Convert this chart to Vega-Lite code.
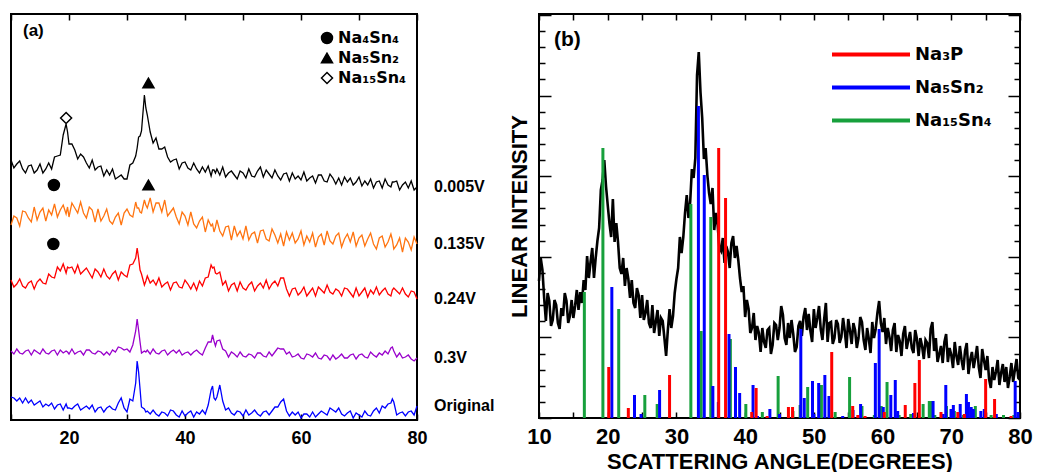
{
"$schema": "https://vega.github.io/schema/vega-lite/v6.json",
"padding": {"left": 7, "top": 12, "right": 0, "bottom": 0},
"autosize": {"type": "pad"},
"background": "white",
"bounds": "flush",
"spacing": 122,
"resolve": {"scale": {"color": "independent", "fill": "independent", "shape": "independent", "stroke": "independent"}, "legend": {"color": "independent", "fill": "independent", "shape": "independent", "stroke": "independent"}},
"config": {
  "view": {"stroke": "black", "strokeWidth": 2},
  "font": "Liberation Sans",
  "axis": {"domain": false, "grid": false, "tickColor": "black", "tickWidth": 1.5, "labelColor": "black", "titleColor": "black", "labelFont": "Liberation Sans", "titleFont": "Liberation Sans", "labelFontWeight": "bold", "titleFontWeight": "bold", "labelFlush": false},
  "legend": {"labelFont": "DejaVu Sans", "labelFontWeight": "bold", "labelColor": "black"}
},
"datasets": {
  "curves": [
    {"x":10,"k":260,"o":195,"r":140,"p":69,"b":23},
    {"x":10.5,"k":252,"o":204,"r":133,"p":66,"b":22},
    {"x":11,"k":256,"o":202,"r":136,"p":71,"b":19},
    {"x":11.5,"k":259,"o":194,"r":141,"p":67,"b":22},
    {"x":12,"k":251,"o":209,"r":134,"p":66,"b":17},
    {"x":12.5,"k":247,"o":208,"r":132,"p":69,"b":22},
    {"x":13,"k":254,"o":202,"r":137,"p":70,"b":17},
    {"x":13.5,"k":255,"o":198,"r":139,"p":65,"b":20},
    {"x":14,"k":247,"o":213,"r":131,"p":70,"b":15},
    {"x":14.5,"k":250,"o":200,"r":138,"p":68,"b":17},
    {"x":15,"k":256,"o":208,"r":141,"p":66,"b":19},
    {"x":15.5,"k":247,"o":212,"r":137,"p":71,"b":13},
    {"x":16,"k":251,"o":199,"r":136,"p":67,"b":16},
    {"x":16.5,"k":257,"o":210,"r":146,"p":66,"b":14},
    {"x":17,"k":251,"o":205,"r":143,"p":69,"b":17},
    {"x":17.5,"k":263,"o":216,"r":142,"p":70,"b":11},
    {"x":18,"k":264,"o":203,"r":153,"p":65,"b":15},
    {"x":18.5,"k":265,"o":210,"r":149,"p":70,"b":16},
    {"x":19,"k":285,"o":215,"r":156,"p":67,"b":10},
    {"x":19.5,"k":296,"o":206,"r":147,"p":69,"b":16},
    {"x":19.75,"k":288,"o":213,"r":153,"p":68,"b":12},
    {"x":20,"k":276,"o":203,"r":152,"p":66,"b":12},
    {"x":20.5,"k":276,"o":217,"r":153,"p":71,"b":11},
    {"x":21,"k":270,"o":212,"r":147,"p":66,"b":14},
    {"x":21.5,"k":261,"o":207,"r":155,"p":68,"b":16},
    {"x":22,"k":266,"o":218,"r":146,"p":69,"b":10},
    {"x":22.5,"k":263,"o":207,"r":149,"p":65,"b":12},
    {"x":23,"k":257,"o":202,"r":152,"p":70,"b":14},
    {"x":23.5,"k":252,"o":213,"r":147,"p":70,"b":11},
    {"x":24,"k":260,"o":210,"r":142,"p":67,"b":15},
    {"x":24.5,"k":250,"o":198,"r":151,"p":66,"b":8},
    {"x":25,"k":253,"o":211,"r":148,"p":69,"b":12},
    {"x":25.5,"k":254,"o":199,"r":143,"p":68,"b":13},
    {"x":26,"k":244,"o":204,"r":151,"p":65,"b":8},
    {"x":26.5,"k":250,"o":211,"r":144,"p":68,"b":12},
    {"x":27,"k":245,"o":199,"r":141,"p":65,"b":14},
    {"x":27.5,"k":251,"o":196,"r":146,"p":70,"b":11},
    {"x":28,"k":241,"o":203,"r":149,"p":68,"b":10},
    {"x":28.5,"k":243,"o":207,"r":140,"p":73,"b":17},
    {"x":29,"k":245,"o":195,"r":148,"p":72,"b":22},
    {"x":29.5,"k":241,"o":207,"r":145,"p":70,"b":12},
    {"x":30,"k":241,"o":211,"r":143,"p":71,"b":8},
    {"x":30.5,"k":255,"o":205,"r":155,"p":68,"b":21},
    {"x":31,"k":257,"o":203,"r":156,"p":75,"b":19},
    {"x":31.5,"k":264,"o":218,"r":162,"p":89,"b":37},
    {"x":31.75,"k":272,"o":212,"r":172,"p":101,"b":59},
    {"x":32,"k":283,"o":212,"r":162,"p":90,"b":48},
    {"x":32.25,"k":284,"o":208,"r":150,"p":78,"b":31},
    {"x":32.5,"k":289,"o":207,"r":146,"p":67,"b":13},
    {"x":33,"k":325,"o":220,"r":135,"p":69,"b":11},
    {"x":33.25,"k":312,"o":215,"r":139,"p":68,"b":8},
    {"x":33.5,"k":305,"o":212,"r":144,"p":70,"b":9},
    {"x":34,"k":288,"o":222,"r":137,"p":66,"b":6},
    {"x":34.5,"k":277,"o":208,"r":140,"p":71,"b":10},
    {"x":35,"k":282,"o":217,"r":135,"p":67,"b":6},
    {"x":35.5,"k":271,"o":217,"r":142,"p":66,"b":4},
    {"x":36,"k":271,"o":208,"r":133,"p":69,"b":8},
    {"x":36.5,"k":273,"o":220,"r":136,"p":70,"b":7},
    {"x":37,"k":263,"o":204,"r":138,"p":65,"b":4},
    {"x":37.5,"k":258,"o":208,"r":130,"p":68,"b":10},
    {"x":38,"k":260,"o":212,"r":137,"p":70,"b":9},
    {"x":38.5,"k":261,"o":203,"r":138,"p":67,"b":5},
    {"x":39,"k":251,"o":196,"r":133,"p":70,"b":3},
    {"x":39.5,"k":257,"o":208,"r":132,"p":65,"b":9},
    {"x":40,"k":258,"o":204,"r":140,"p":67,"b":4},
    {"x":40.5,"k":252,"o":195,"r":136,"p":68,"b":7},
    {"x":41,"k":250,"o":208,"r":131,"p":65,"b":9},
    {"x":41.5,"k":257,"o":196,"r":137,"p":68,"b":3},
    {"x":42,"k":251,"o":192,"r":130,"p":70,"b":8},
    {"x":42.5,"k":247,"o":199,"r":139,"p":67,"b":6},
    {"x":43,"k":253,"o":203,"r":134,"p":65,"b":10},
    {"x":43.5,"k":248,"o":188,"r":142,"p":72,"b":6},
    {"x":44,"k":254,"o":200,"r":143,"p":78,"b":15},
    {"x":44.5,"k":244,"o":194,"r":155,"p":78,"b":30},
    {"x":44.75,"k":250,"o":196,"r":152,"p":85,"b":34},
    {"x":45,"k":250,"o":188,"r":153,"p":79,"b":22},
    {"x":45.25,"k":247,"o":193,"r":147,"p":74,"b":20},
    {"x":45.5,"k":251,"o":200,"r":146,"p":79,"b":23},
    {"x":46,"k":245,"o":189,"r":148,"p":80,"b":35},
    {"x":46.5,"k":253,"o":184,"r":135,"p":71,"b":19},
    {"x":47,"k":243,"o":193,"r":139,"p":69,"b":10},
    {"x":47.5,"k":247,"o":194,"r":129,"p":63,"b":12},
    {"x":48,"k":249,"o":180,"r":135,"p":68,"b":7},
    {"x":48.5,"k":245,"o":194,"r":137,"p":66,"b":5},
    {"x":49,"k":241,"o":184,"r":129,"p":63,"b":9},
    {"x":49.5,"k":249,"o":189,"r":138,"p":68,"b":8},
    {"x":50,"k":247,"o":181,"r":132,"p":64,"b":4},
    {"x":50.5,"k":242,"o":194,"r":130,"p":63,"b":10},
    {"x":51,"k":251,"o":180,"r":135,"p":66,"b":5},
    {"x":51.5,"k":244,"o":186,"r":138,"p":65,"b":7},
    {"x":52,"k":243,"o":188,"r":129,"p":62,"b":10},
    {"x":52.5,"k":249,"o":177,"r":134,"p":67,"b":6},
    {"x":53,"k":253,"o":189,"r":137,"p":67,"b":4},
    {"x":53.5,"k":243,"o":190,"r":132,"p":64,"b":8},
    {"x":54,"k":250,"o":181,"r":140,"p":63,"b":9},
    {"x":54.5,"k":246,"o":179,"r":131,"p":68,"b":5},
    {"x":55,"k":242,"o":191,"r":136,"p":64,"b":9},
    {"x":55.5,"k":250,"o":185,"r":139,"p":68,"b":13},
    {"x":56,"k":244,"o":177,"r":134,"p":72,"b":13},
    {"x":56.5,"k":240,"o":186,"r":142,"p":71,"b":18},
    {"x":57,"k":246,"o":174,"r":142,"p":71,"b":21},
    {"x":57.5,"k":247,"o":188,"r":131,"p":66,"b":9},
    {"x":58,"k":239,"o":180,"r":124,"p":68,"b":4},
    {"x":58.5,"k":247,"o":187,"r":131,"p":63,"b":8},
    {"x":59,"k":241,"o":177,"r":132,"p":64,"b":5},
    {"x":59.5,"k":244,"o":181,"r":125,"p":66,"b":8},
    {"x":60,"k":240,"o":189,"r":128,"p":62,"b":2},
    {"x":60.5,"k":248,"o":175,"r":133,"p":61,"b":6},
    {"x":61,"k":239,"o":184,"r":124,"p":66,"b":6},
    {"x":61.5,"k":242,"o":178,"r":128,"p":65,"b":3},
    {"x":62,"k":244,"o":187,"r":132,"p":63,"b":8},
    {"x":62.5,"k":237,"o":173,"r":124,"p":67,"b":3},
    {"x":63,"k":245,"o":183,"r":133,"p":62,"b":6},
    {"x":63.5,"k":245,"o":186,"r":130,"p":61,"b":9},
    {"x":64,"k":239,"o":175,"r":127,"p":65,"b":7},
    {"x":64.5,"k":238,"o":189,"r":135,"p":64,"b":5},
    {"x":65,"k":246,"o":179,"r":128,"p":60,"b":12},
    {"x":65.5,"k":242,"o":176,"r":126,"p":65,"b":10},
    {"x":66,"k":236,"o":184,"r":131,"p":61,"b":8},
    {"x":66.5,"k":242,"o":187,"r":129,"p":63,"b":12},
    {"x":67,"k":235,"o":173,"r":124,"p":66,"b":6},
    {"x":67.5,"k":243,"o":181,"r":132,"p":62,"b":4},
    {"x":68,"k":238,"o":186,"r":131,"p":62,"b":7},
    {"x":68.5,"k":242,"o":178,"r":127,"p":65,"b":9},
    {"x":69,"k":235,"o":188,"r":123,"p":66,"b":2},
    {"x":69.5,"k":238,"o":174,"r":132,"p":61,"b":7},
    {"x":70,"k":243,"o":182,"r":124,"p":65,"b":5},
    {"x":70.5,"k":234,"o":185,"r":128,"p":66,"b":3},
    {"x":71,"k":239,"o":174,"r":132,"p":63,"b":9},
    {"x":71.5,"k":235,"o":181,"r":123,"p":62,"b":5},
    {"x":72,"k":241,"o":187,"r":130,"p":68,"b":4},
    {"x":72.5,"k":232,"o":176,"r":126,"p":65,"b":9},
    {"x":73,"k":238,"o":171,"r":133,"p":63,"b":12},
    {"x":73.5,"k":239,"o":182,"r":125,"p":67,"b":7},
    {"x":74,"k":232,"o":184,"r":129,"p":65,"b":14},
    {"x":74.5,"k":241,"o":173,"r":132,"p":69,"b":12},
    {"x":75,"k":235,"o":178,"r":126,"p":66,"b":16},
    {"x":75.5,"k":233,"o":186,"r":124,"p":72,"b":17},
    {"x":75.75,"k":238,"o":180,"r":130,"p":73,"b":21},
    {"x":76,"k":238,"o":171,"r":132,"p":69,"b":18},
    {"x":76.5,"k":239,"o":175,"r":129,"p":63,"b":5},
    {"x":77,"k":230,"o":182,"r":126,"p":67,"b":7},
    {"x":77.5,"k":235,"o":168,"r":132,"p":62,"b":8},
    {"x":78,"k":238,"o":182,"r":126,"p":63,"b":4},
    {"x":78.5,"k":232,"o":178,"r":123,"p":65,"b":8},
    {"x":79,"k":239,"o":170,"r":129,"p":61,"b":9},
    {"x":79.5,"k":230,"o":183,"r":128,"p":59,"b":5},
    {"x":80,"k":233,"o":176,"r":121,"p":62,"b":14}
  ],
  "markers": [
    {"phase":"Na₁₅Sn₄","x":19.5,"y":302},
    {"phase":"Na₅Sn₂","x":33.7,"y":337},
    {"phase":"Na₄Sn₄","x":17.4,"y":235},
    {"phase":"Na₅Sn₂","x":33.7,"y":235},
    {"phase":"Na₄Sn₄","x":17.3,"y":176}
  ],
  "xrd": [
    {"x":10,"y":137},{"x":10.25,"y":160},{"x":10.5,"y":148},{"x":10.75,"y":120},{"x":11,"y":97},{"x":11.25,"y":125},{"x":11.5,"y":117},{"x":11.75,"y":92},{"x":12,"y":98},{"x":12.25,"y":118},
    {"x":12.5,"y":113},{"x":12.75,"y":95},{"x":13,"y":89},{"x":13.25,"y":110},{"x":13.5,"y":102},{"x":13.75,"y":125},{"x":14,"y":117},{"x":14.25,"y":95},{"x":14.5,"y":102},{"x":14.75,"y":118},
    {"x":15,"y":100},{"x":15.25,"y":112},{"x":15.5,"y":128},{"x":15.75,"y":108},{"x":16,"y":126},{"x":16.25,"y":115},{"x":16.5,"y":138},{"x":16.75,"y":128},{"x":17,"y":162},{"x":17.25,"y":140},
    {"x":17.5,"y":156},{"x":17.75,"y":170},{"x":18,"y":140},{"x":18.25,"y":160},{"x":18.5,"y":177},{"x":18.75,"y":190},{"x":19,"y":228},{"x":19.25,"y":238},{"x":19.5,"y":258},{"x":19.75,"y":232},
    {"x":20,"y":213},{"x":20.25,"y":195},{"x":20.5,"y":181},{"x":20.75,"y":219},{"x":21,"y":176},{"x":21.25,"y":195},{"x":21.5,"y":176},{"x":21.75,"y":150},{"x":22,"y":144},{"x":22.25,"y":160},
    {"x":22.5,"y":132},{"x":22.75,"y":150},{"x":23,"y":139},{"x":23.25,"y":120},{"x":23.5,"y":138},{"x":23.75,"y":115},{"x":24,"y":110},{"x":24.25,"y":130},{"x":24.5,"y":123},{"x":24.75,"y":100},
    {"x":25,"y":123},{"x":25.25,"y":98},{"x":25.5,"y":105},{"x":25.75,"y":118},{"x":26,"y":95},{"x":26.25,"y":90},{"x":26.5,"y":113},{"x":26.75,"y":85},{"x":27,"y":96},{"x":27.25,"y":108},
    {"x":27.5,"y":82},{"x":27.75,"y":100},{"x":28,"y":97},{"x":28.25,"y":80},{"x":28.5,"y":62},{"x":28.75,"y":88},{"x":29,"y":109},{"x":29.25,"y":90},{"x":29.5,"y":102},{"x":29.75,"y":125},
    {"x":30,"y":139},{"x":30.25,"y":150},{"x":30.5,"y":181},{"x":30.75,"y":165},{"x":31,"y":181},{"x":31.25,"y":205},{"x":31.5,"y":223},{"x":31.75,"y":200},{"x":32,"y":216},{"x":32.25,"y":249},
    {"x":32.5,"y":240},{"x":32.75,"y":260},{"x":33,"y":343},{"x":33.25,"y":366},{"x":33.5,"y":326},{"x":33.75,"y":300},{"x":34,"y":259},{"x":34.25,"y":270},{"x":34.5,"y":243},{"x":34.75,"y":225},
    {"x":35,"y":214},{"x":35.25,"y":230},{"x":35.5,"y":188},{"x":35.75,"y":205},{"x":36,"y":193},{"x":36.25,"y":170},{"x":36.5,"y":167},{"x":36.75,"y":180},{"x":37,"y":155},{"x":37.25,"y":172},
    {"x":37.5,"y":166},{"x":37.75,"y":150},{"x":38,"y":175},{"x":38.25,"y":182},{"x":38.5,"y":160},{"x":38.75,"y":172},{"x":39,"y":158},{"x":39.25,"y":140},{"x":39.5,"y":126},{"x":39.75,"y":132},
    {"x":40,"y":101},{"x":40.25,"y":118},{"x":40.5,"y":109},{"x":40.75,"y":85},{"x":41,"y":90},{"x":41.25,"y":105},{"x":41.5,"y":78},{"x":41.75,"y":92},{"x":42,"y":85},{"x":42.25,"y":66},
    {"x":42.5,"y":90},{"x":42.75,"y":76},{"x":43,"y":70},{"x":43.25,"y":88},{"x":43.5,"y":90},{"x":43.75,"y":64},{"x":44,"y":73},{"x":44.25,"y":95},{"x":44.5,"y":93},{"x":44.75,"y":78},
    {"x":45,"y":90},{"x":45.25,"y":112},{"x":45.5,"y":103},{"x":45.75,"y":80},{"x":46,"y":73},{"x":46.25,"y":95},{"x":46.5,"y":80},{"x":46.75,"y":98},{"x":47,"y":84},{"x":47.25,"y":66},
    {"x":47.5,"y":71},{"x":47.75,"y":92},{"x":48,"y":97},{"x":48.25,"y":82},{"x":48.5,"y":101},{"x":48.75,"y":110},{"x":49,"y":88},{"x":49.25,"y":104},{"x":49.5,"y":87},{"x":49.75,"y":76},
    {"x":50,"y":109},{"x":50.25,"y":90},{"x":50.5,"y":100},{"x":50.75,"y":112},{"x":51,"y":89},{"x":51.25,"y":78},{"x":51.5,"y":99},{"x":51.75,"y":115},{"x":52,"y":76},{"x":52.25,"y":95},
    {"x":52.5,"y":96},{"x":52.75,"y":74},{"x":53,"y":80},{"x":53.25,"y":98},{"x":53.5,"y":94},{"x":53.75,"y":75},{"x":54,"y":81},{"x":54.25,"y":100},{"x":54.5,"y":87},{"x":54.75,"y":70},
    {"x":55,"y":99},{"x":55.25,"y":88},{"x":55.5,"y":74},{"x":55.75,"y":95},{"x":56,"y":88},{"x":56.25,"y":70},{"x":56.5,"y":80},{"x":56.75,"y":101},{"x":57,"y":96},{"x":57.25,"y":78},
    {"x":57.5,"y":68},{"x":57.75,"y":90},{"x":58,"y":79},{"x":58.25,"y":65},{"x":58.5,"y":96},{"x":58.75,"y":80},{"x":59,"y":89},{"x":59.25,"y":105},{"x":59.5,"y":117},{"x":59.75,"y":95},
    {"x":60,"y":86},{"x":60.25,"y":100},{"x":60.5,"y":74},{"x":60.75,"y":90},{"x":61,"y":81},{"x":61.25,"y":67},{"x":61.5,"y":88},{"x":61.75,"y":95},{"x":62,"y":66},{"x":62.25,"y":83},
    {"x":62.5,"y":77},{"x":62.75,"y":62},{"x":63,"y":84},{"x":63.25,"y":92},{"x":63.5,"y":69},{"x":63.75,"y":78},{"x":64,"y":86},{"x":64.25,"y":70},{"x":64.5,"y":65},{"x":64.75,"y":88},
    {"x":65,"y":79},{"x":65.25,"y":62},{"x":65.5,"y":80},{"x":65.75,"y":72},{"x":66,"y":59},{"x":66.25,"y":78},{"x":66.5,"y":75},{"x":66.75,"y":60},{"x":67,"y":89},{"x":67.25,"y":96},
    {"x":67.5,"y":67},{"x":67.75,"y":80},{"x":68,"y":56},{"x":68.25,"y":64},{"x":68.5,"y":72},{"x":68.75,"y":55},{"x":69,"y":76},{"x":69.25,"y":84},{"x":69.5,"y":56},{"x":69.75,"y":70},
    {"x":70,"y":63},{"x":70.25,"y":50},{"x":70.5,"y":76},{"x":70.75,"y":62},{"x":71,"y":53},{"x":71.25,"y":72},{"x":71.5,"y":58},{"x":71.75,"y":48},{"x":72,"y":67},{"x":72.25,"y":75},
    {"x":72.5,"y":44},{"x":72.75,"y":58},{"x":73,"y":66},{"x":73.25,"y":50},{"x":73.5,"y":60},{"x":73.75,"y":72},{"x":74,"y":51},{"x":74.25,"y":40},{"x":74.5,"y":69},{"x":74.75,"y":58},
    {"x":75,"y":48},{"x":75.25,"y":62},{"x":75.5,"y":39},{"x":75.75,"y":30},{"x":76,"y":51},{"x":76.25,"y":38},{"x":76.5,"y":46},{"x":76.75,"y":58},{"x":77,"y":33},{"x":77.25,"y":45},
    {"x":77.5,"y":54},{"x":77.75,"y":36},{"x":78,"y":51},{"x":78.25,"y":30},{"x":78.5,"y":41},{"x":78.75,"y":55},{"x":79,"y":36},{"x":79.25,"y":48},{"x":79.5,"y":59},{"x":79.75,"y":40},
    {"x":80,"y":38}
  ],
  "sticks": [
    {"phase":"Na₁₅Sn₄","x":16.6,"h":126},{"phase":"Na₁₅Sn₄","x":19.3,"h":270},{"phase":"Na₁₅Sn₄","x":21.6,"h":109},{"phase":"Na₁₅Sn₄","x":25.4,"h":23},{"phase":"Na₁₅Sn₄","x":27.2,"h":14},
    {"phase":"Na₁₅Sn₄","x":32.1,"h":214},{"phase":"Na₁₅Sn₄","x":33.6,"h":87},{"phase":"Na₁₅Sn₄","x":35.0,"h":201},{"phase":"Na₁₅Sn₄","x":37.85,"h":79},{"phase":"Na₁₅Sn₄","x":40.1,"h":14},
    {"phase":"Na₁₅Sn₄","x":42.5,"h":6},{"phase":"Na₁₅Sn₄","x":44.8,"h":42},{"phase":"Na₁₅Sn₄","x":46.95,"h":7},{"phase":"Na₁₅Sn₄","x":48.0,"h":13},{"phase":"Na₁₅Sn₄","x":49.1,"h":31},
    {"phase":"Na₁₅Sn₄","x":51.1,"h":33},{"phase":"Na₁₅Sn₄","x":53.1,"h":6},{"phase":"Na₁₅Sn₄","x":55.2,"h":41},{"phase":"Na₁₅Sn₄","x":57.0,"h":12},{"phase":"Na₁₅Sn₄","x":58.8,"h":3},
    {"phase":"Na₁₅Sn₄","x":59.8,"h":12},{"phase":"Na₁₅Sn₄","x":60.65,"h":36},{"phase":"Na₁₅Sn₄","x":62.4,"h":3},{"phase":"Na₁₅Sn₄","x":64.1,"h":4},{"phase":"Na₁₅Sn₄","x":65.9,"h":14},
    {"phase":"Na₁₅Sn₄","x":66.8,"h":17},{"phase":"Na₁₅Sn₄","x":67.05,"h":17},{"phase":"Na₁₅Sn₄","x":67.6,"h":3},{"phase":"Na₁₅Sn₄","x":69.3,"h":12},{"phase":"Na₁₅Sn₄","x":70.45,"h":7},
    {"phase":"Na₁₅Sn₄","x":71.75,"h":3},{"phase":"Na₁₅Sn₄","x":73.5,"h":12},{"phase":"Na₁₅Sn₄","x":75.8,"h":3},{"phase":"Na₁₅Sn₄","x":77.6,"h":3},{"phase":"Na₁₅Sn₄","x":79.1,"h":3},
    {"phase":"Na₅Sn₂","x":20.6,"h":131},{"phase":"Na₅Sn₂","x":23.9,"h":23},{"phase":"Na₅Sn₂","x":24.85,"h":4},{"phase":"Na₅Sn₂","x":27.55,"h":28},{"phase":"Na₅Sn₂","x":33.2,"h":312},
    {"phase":"Na₅Sn₂","x":34.05,"h":243},{"phase":"Na₅Sn₂","x":35.3,"h":32},{"phase":"Na₅Sn₂","x":36.1,"h":16},{"phase":"Na₅Sn₂","x":37.65,"h":84},{"phase":"Na₅Sn₂","x":38.6,"h":51},
    {"phase":"Na₅Sn₂","x":39.2,"h":25},{"phase":"Na₅Sn₂","x":41.15,"h":33},{"phase":"Na₅Sn₂","x":41.8,"h":2},{"phase":"Na₅Sn₂","x":43.6,"h":9},{"phase":"Na₅Sn₂","x":45.0,"h":4},
    {"phase":"Na₅Sn₂","x":48.1,"h":89},{"phase":"Na₅Sn₂","x":48.6,"h":20},{"phase":"Na₅Sn₂","x":49.8,"h":37},{"phase":"Na₅Sn₂","x":50.0,"h":4},{"phase":"Na₅Sn₂","x":50.7,"h":35},
    {"phase":"Na₅Sn₂","x":51.6,"h":43},{"phase":"Na₅Sn₂","x":52.2,"h":22},{"phase":"Na₅Sn₂","x":54.2,"h":2},{"phase":"Na₅Sn₂","x":55.7,"h":8},{"phase":"Na₅Sn₂","x":56.8,"h":14},
    {"phase":"Na₅Sn₂","x":58.95,"h":55},{"phase":"Na₅Sn₂","x":59.5,"h":89},{"phase":"Na₅Sn₂","x":60.1,"h":11},{"phase":"Na₅Sn₂","x":61.2,"h":23},{"phase":"Na₅Sn₂","x":61.85,"h":38},
    {"phase":"Na₅Sn₂","x":62.2,"h":7},{"phase":"Na₅Sn₂","x":64.5,"h":5},{"phase":"Na₅Sn₂","x":67.35,"h":17},{"phase":"Na₅Sn₂","x":68.8,"h":4},{"phase":"Na₅Sn₂","x":69.2,"h":33},
    {"phase":"Na₅Sn₂","x":69.96,"h":9},{"phase":"Na₅Sn₂","x":70.3,"h":13},{"phase":"Na₅Sn₂","x":71.3,"h":14},{"phase":"Na₅Sn₂","x":72.2,"h":24},{"phase":"Na₅Sn₂","x":72.5,"h":16},
    {"phase":"Na₅Sn₂","x":72.9,"h":11},{"phase":"Na₅Sn₂","x":73.2,"h":9},{"phase":"Na₅Sn₂","x":74.3,"h":7},{"phase":"Na₅Sn₂","x":74.8,"h":9},{"phase":"Na₅Sn₂","x":76.55,"h":4},
    {"phase":"Na₅Sn₂","x":79.3,"h":37},{"phase":"Na₅Sn₂","x":79.7,"h":6},
    {"phase":"Na₃P","x":20.15,"h":51},{"phase":"Na₃P","x":23.0,"h":10},{"phase":"Na₃P","x":29.0,"h":43},{"phase":"Na₃P","x":36.15,"h":270},{"phase":"Na₃P","x":37.15,"h":220},
    {"phase":"Na₃P","x":40.96,"h":6},{"phase":"Na₃P","x":41.6,"h":30},{"phase":"Na₃P","x":43.2,"h":2},{"phase":"Na₃P","x":46.3,"h":11},{"phase":"Na₃P","x":46.9,"h":11},
    {"phase":"Na₃P","x":52.6,"h":66},{"phase":"Na₃P","x":55.65,"h":12},{"phase":"Na₃P","x":56.4,"h":3},{"phase":"Na₃P","x":57.45,"h":2},{"phase":"Na₃P","x":60.25,"h":6},
    {"phase":"Na₃P","x":63.3,"h":13},{"phase":"Na₃P","x":64.7,"h":35},{"phase":"Na₃P","x":65.35,"h":58},{"phase":"Na₃P","x":68.5,"h":6},{"phase":"Na₃P","x":70.95,"h":6},
    {"phase":"Na₃P","x":71.9,"h":4},{"phase":"Na₃P","x":75.0,"h":39},{"phase":"Na₃P","x":76.3,"h":19},{"phase":"Na₃P","x":78.7,"h":2}
  ]
},
"hconcat": [
  {
    "width": 406,
    "height": 406,
    "title": {"text": "(a)", "anchor": "start", "frame": "group", "baseline": "top", "offset": -27, "dx": 12, "fontSize": 17, "fontWeight": "bold", "font": "Liberation Sans", "color": "black"},
    "resolve": {"axis": {"x": "independent"}},
    "layer": [
      {
        "data": {"name": "curves"},
        "transform": [{"fold": ["k", "o", "r", "p", "b"], "as": ["series", "v"]}],
        "mark": {"type": "line", "strokeWidth": 1.3},
        "encoding": {
          "x": {"field": "x", "type": "quantitative", "scale": {"domain": [10, 80], "nice": false, "zero": false},
                "axis": {"orient": "bottom", "values": [10, 20, 30, 40, 50, 60, 70, 80], "labelExpr": "datum.value % 20 === 0 ? datum.label : ''", "tickSize": -6, "labelPadding": 15, "labelFontSize": 18, "title": null}},
          "y": {"field": "v", "type": "quantitative", "scale": {"domain": [0, 406], "nice": false, "zero": false}, "axis": null},
          "color": {"field": "series", "type": "nominal", "scale": {"domain": ["k", "o", "r", "p", "b"], "range": ["#000000", "#ff7410", "#ff0000", "#9900cc", "#0000ff"]}, "legend": null}
        }
      },
      {
        "data": {"name": "markers"},
        "mark": {"type": "point", "filled": true, "strokeWidth": 1.5, "size": 121, "opacity": 1},
        "encoding": {
          "x": {"field": "x", "type": "quantitative", "axis": {"orient": "top", "values": [10, 20, 30, 40, 50, 60, 70, 80], "labels": false, "tickSize": -6, "title": null}},
          "y": {"field": "y", "type": "quantitative", "axis": null},
          "shape": {"field": "phase", "type": "nominal", "scale": {"domain": ["Na₄Sn₄", "Na₅Sn₂", "Na₁₅Sn₄"], "range": ["circle", "triangle-up", "diamond"]},
                    "legend": {"orient": "none", "legendX": 308, "legendY": 14, "title": null, "symbolSize": 121, "symbolStrokeWidth": 1.5, "labelFontSize": 16, "labelOffset": 3, "clipHeight": 20, "rowPadding": 0, "padding": 0}},
          "fill": {"field": "phase", "type": "nominal", "scale": {"domain": ["Na₄Sn₄", "Na₅Sn₂", "Na₁₅Sn₄"], "range": ["black", "black", "white"]},
                   "legend": {"orient": "none", "legendX": 308, "legendY": 14, "title": null, "symbolSize": 121, "symbolStrokeWidth": 1.5, "labelFontSize": 16, "labelOffset": 3, "clipHeight": 20, "rowPadding": 0, "padding": 0}},
          "stroke": {"field": "phase", "type": "nominal", "scale": {"domain": ["Na₄Sn₄", "Na₅Sn₂", "Na₁₅Sn₄"], "range": ["black", "black", "black"]},
                   "legend": {"orient": "none", "legendX": 308, "legendY": 14, "title": null, "symbolSize": 121, "symbolStrokeWidth": 1.5, "labelFontSize": 16, "labelOffset": 3, "clipHeight": 20, "rowPadding": 0, "padding": 0}}
        }
      },
      {
        "data": {"name": "curves"},
        "transform": [
          {"filter": "datum.x === 80"},
          {"fold": ["k", "o", "r", "p", "b"], "as": ["series", "v"]},
          {"lookup": "series", "from": {"data": {"values": [
            {"series": "k", "label": "0.005V"}, {"series": "o", "label": "0.135V"}, {"series": "r", "label": "0.24V"}, {"series": "p", "label": "0.3V"}, {"series": "b", "label": "Original"}
          ]}, "key": "series", "fields": ["label"]}}
        ],
        "mark": {"type": "text", "align": "left", "baseline": "middle", "dx": 17, "fontSize": 16, "fontWeight": "bold", "font": "Liberation Sans", "color": "black"},
        "encoding": {
          "x": {"field": "x", "type": "quantitative", "axis": null},
          "y": {"field": "v", "type": "quantitative", "axis": null},
          "text": {"field": "label", "type": "nominal"}
        }
      }
    ]
  },
  {
    "width": 481,
    "height": 404,
    "title": {"text": "(b)", "anchor": "start", "frame": "group", "baseline": "top", "offset": -37, "dx": 15, "fontSize": 21, "fontWeight": "bold", "font": "Liberation Sans", "color": "black"},
    "resolve": {"axis": {"x": "independent", "y": "independent"}},
    "layer": [
      {
        "data": {"name": "xrd"},
        "mark": {"type": "line", "color": "black", "strokeWidth": 2.6},
        "encoding": {
          "x": {"field": "x", "type": "quantitative", "scale": {"domain": [10, 80], "nice": false, "zero": false},
                "axis": {"orient": "bottom", "values": [10, 15, 20, 25, 30, 35, 40, 45, 50, 55, 60, 65, 70, 75, 80], "labelExpr": "datum.value % 10 === 0 ? datum.label : ''", "tickSize": -6, "labelPadding": 14, "labelFontSize": 22, "title": "SCATTERING ANGLE(DEGREES)", "titleFontSize": 22, "titlePadding": 4}},
          "y": {"field": "y", "type": "quantitative", "scale": {"domain": [0, 404], "nice": false, "zero": false},
                "axis": {"orient": "left", "values": [0, 16.12, 32.24, 48.36, 64.48, 80.6, 96.72, 112.84, 128.96, 145.08, 161.2, 177.32, 193.44, 209.56, 225.68, 241.8, 257.92, 274.04, 290.16, 306.28, 322.4, 338.52, 354.64, 370.76, 386.88, 403],
                         "labels": false, "tickSize": {"condition": {"test": "round(datum.value / 16.12) % 5 === 0", "value": -12}, "value": -6}, "title": "LINEAR INTENSITY", "titleFontSize": 22, "titlePadding": 7}}
        }
      },
      {
        "data": {"name": "sticks"},
        "mark": {"type": "rule", "strokeWidth": 3},
        "encoding": {
          "x": {"field": "x", "type": "quantitative", "axis": {"orient": "top", "values": [10, 15, 20, 25, 30, 35, 40, 45, 50, 55, 60, 65, 70, 75, 80], "labels": false, "tickSize": -6, "title": null}},
          "y": {"field": "h", "type": "quantitative",
                "axis": {"orient": "right", "values": [0, 16.12, 32.24, 48.36, 64.48, 80.6, 96.72, 112.84, 128.96, 145.08, 161.2, 177.32, 193.44, 209.56, 225.68, 241.8, 257.92, 274.04, 290.16, 306.28, 322.4, 338.52, 354.64, 370.76, 386.88, 403],
                         "labels": false, "tickSize": {"condition": {"test": "round(datum.value / 16.12) % 5 === 0", "value": -12}, "value": -6}, "title": null}},
          "y2": {"datum": 0},
          "color": {"field": "phase", "type": "nominal", "scale": {"domain": ["Na₃P", "Na₅Sn₂", "Na₁₅Sn₄"], "range": ["#ff0000", "#0000ff", "#17a03c"]},
                    "legend": {"orient": "none", "legendX": 291, "legendY": 24, "title": null, "symbolType": "stroke", "symbolSize": 6084, "symbolStrokeWidth": 4, "labelFontSize": 18, "labelOffset": 3, "clipHeight": 33, "rowPadding": 0, "padding": 0}}
        }
      }
    ]
  }
]
}
